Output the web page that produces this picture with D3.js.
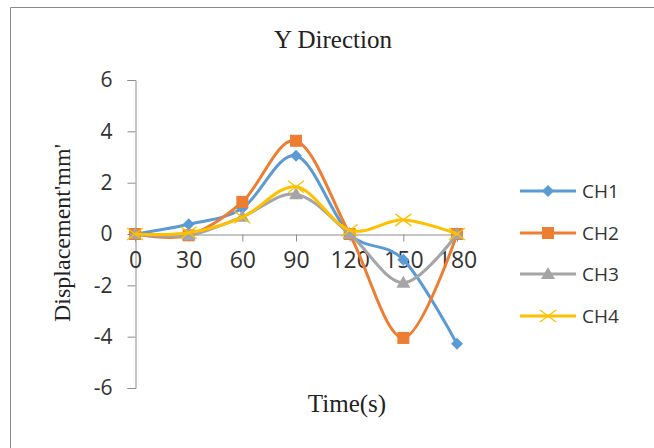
<!DOCTYPE html>
<html><head><meta charset="utf-8">
<script src="https://cdn.jsdelivr.net/npm/d3@7"></script>
<style>html,body{margin:0;padding:0;background:#fff;}svg{display:block;}</style>
</head><body>
<svg id="chart" width="654" height="448"></svg>
<script>
const times = [0, 30, 60, 90, 120, 150, 180];
const ch1 = [0, 0.38, 1.0, 3.05, 0, -1.0, -4.28];
const ch2 = [0, -0.05, 1.25, 3.63, 0, -4.05, 0];
const ch3 = [0, -0.05, 0.67, 1.55, 0, -1.9, 0];
const ch4 = [0, 0.05, 0.65, 1.84, 0.15, 0.55, 0];
const seriesNames = ["CH1", "CH2", "CH3", "CH4"];
const yTicks = [-6, -4, -2, 0, 2, 4, 6];
const xTicks = [0, 30, 60, 90, 120, 150, 180];

const colors = ["#5B9BD5", "#ED7D31", "#A5A5A5", "#FFC000"];
const markers = ["diamond", "square", "triangle", "cross"];
const seriesData = [ch1, ch2, ch3, ch4];

const svg = d3.select("#chart");
// frame
svg.append("path").attr("d", "M10.5,448 V7.5 H654").attr("fill", "none").attr("stroke", "#8a8a8a").attr("stroke-width", 1);

const x = d3.scaleLinear().domain([0, 180]).range([135, 457]);
const y = d3.scaleLinear().domain([-6, 6]).range([388, 80]);
const axisColor = "#8c8c8c";

// Y axis
const yAxis = svg.append("g").attr("transform", "translate(135.5,0)")
  .call(d3.axisLeft(y).tickValues(yTicks).tickSize(8).tickPadding(15).tickFormat(d3.format("d")));
yAxis.select(".domain").attr("stroke", axisColor);
yAxis.selectAll(".tick line").attr("stroke", axisColor);
yAxis.selectAll(".tick text").attr("font-family", "'Open Sans', sans-serif").attr("font-size", 21).attr("fill", "#333")
  .text(d => d < 0 ? "-" + Math.abs(d) : d);

// X axis at 0
const xAxis = svg.append("g").attr("transform", `translate(0,${Math.round(y(0)) + 0.5})`)
  .call(d3.axisBottom(x).tickValues(xTicks).tickSize(7).tickPadding(10).tickFormat(d3.format("d")));
xAxis.select(".domain").attr("stroke", axisColor);
xAxis.selectAll(".tick line").attr("stroke", axisColor);
xAxis.selectAll(".tick text").attr("font-family", "'Open Sans', sans-serif").attr("font-size", 23).attr("fill", "#333");

// Lines
const line = d3.line().x((d, i) => x(times[i])).y(d => y(d)).curve(d3.curveCatmullRom.alpha(0));

function drawMarker(g, type, cx, cy, color) {
  if (type === "diamond") {
    g.append("path").attr("d", `M${cx},${cy-6} L${cx+6},${cy} L${cx},${cy+6} L${cx-6},${cy} Z`).attr("fill", color);
  } else if (type === "square") {
    g.append("rect").attr("x", cx-6).attr("y", cy-6).attr("width", 12).attr("height", 12).attr("fill", color);
  } else if (type === "triangle") {
    g.append("path").attr("d", `M${cx},${cy-7} L${cx+7},${cy+5} L${cx-7},${cy+5} Z`).attr("fill", color);
  } else {
    g.append("path").attr("d", `M${cx-8},${cy-6} L${cx+8},${cy+6} M${cx-8},${cy+6} L${cx+8},${cy-6}`).attr("stroke", color).attr("stroke-width", 1.3).attr("fill", "none");
  }
}

seriesData.forEach((vals, si) => {
  const g = svg.append("g");
  g.append("path").datum(vals).attr("d", line).attr("fill", "none").attr("stroke", colors[si]).attr("stroke-width", 3).attr("stroke-linejoin", "round");
  vals.forEach((v, i) => drawMarker(g, markers[si], x(times[i]), y(v), colors[si]));
});

// Legend
const legendY = [191, 233, 274, 316];
seriesNames.forEach((name, i) => {
  const g = svg.append("g");
  g.append("line").attr("x1", 520).attr("x2", 576).attr("y1", legendY[i]).attr("y2", legendY[i]).attr("stroke", colors[i]).attr("stroke-width", 3);
  drawMarker(g, markers[i], 548, legendY[i], colors[i]);
  g.append("text").attr("x", 582).attr("y", legendY[i]).attr("dy", "0.35em").attr("font-family", "'Open Sans', sans-serif").attr("font-size", 19).attr("fill", "#333").text(name);
});

// Title
svg.append("text").attr("x", 333).attr("y", 48).attr("text-anchor", "middle").attr("font-family", "'Liberation Serif', 'Times New Roman', serif").attr("font-size", 25).attr("fill", "#222").text("Y Direction");
// Axis titles
svg.append("text").attr("x", 347).attr("y", 412).attr("text-anchor", "middle").attr("font-family", "'Liberation Serif', 'Times New Roman', serif").attr("font-size", 25).attr("fill", "#222").text("Time(s)");
svg.append("text").attr("transform", "translate(70,233) rotate(-90)").attr("text-anchor", "middle").attr("font-family", "'Liberation Serif', 'Times New Roman', serif").attr("font-size", 24).attr("fill", "#222").text("Displacement'mm'");
</script>
</body></html>
